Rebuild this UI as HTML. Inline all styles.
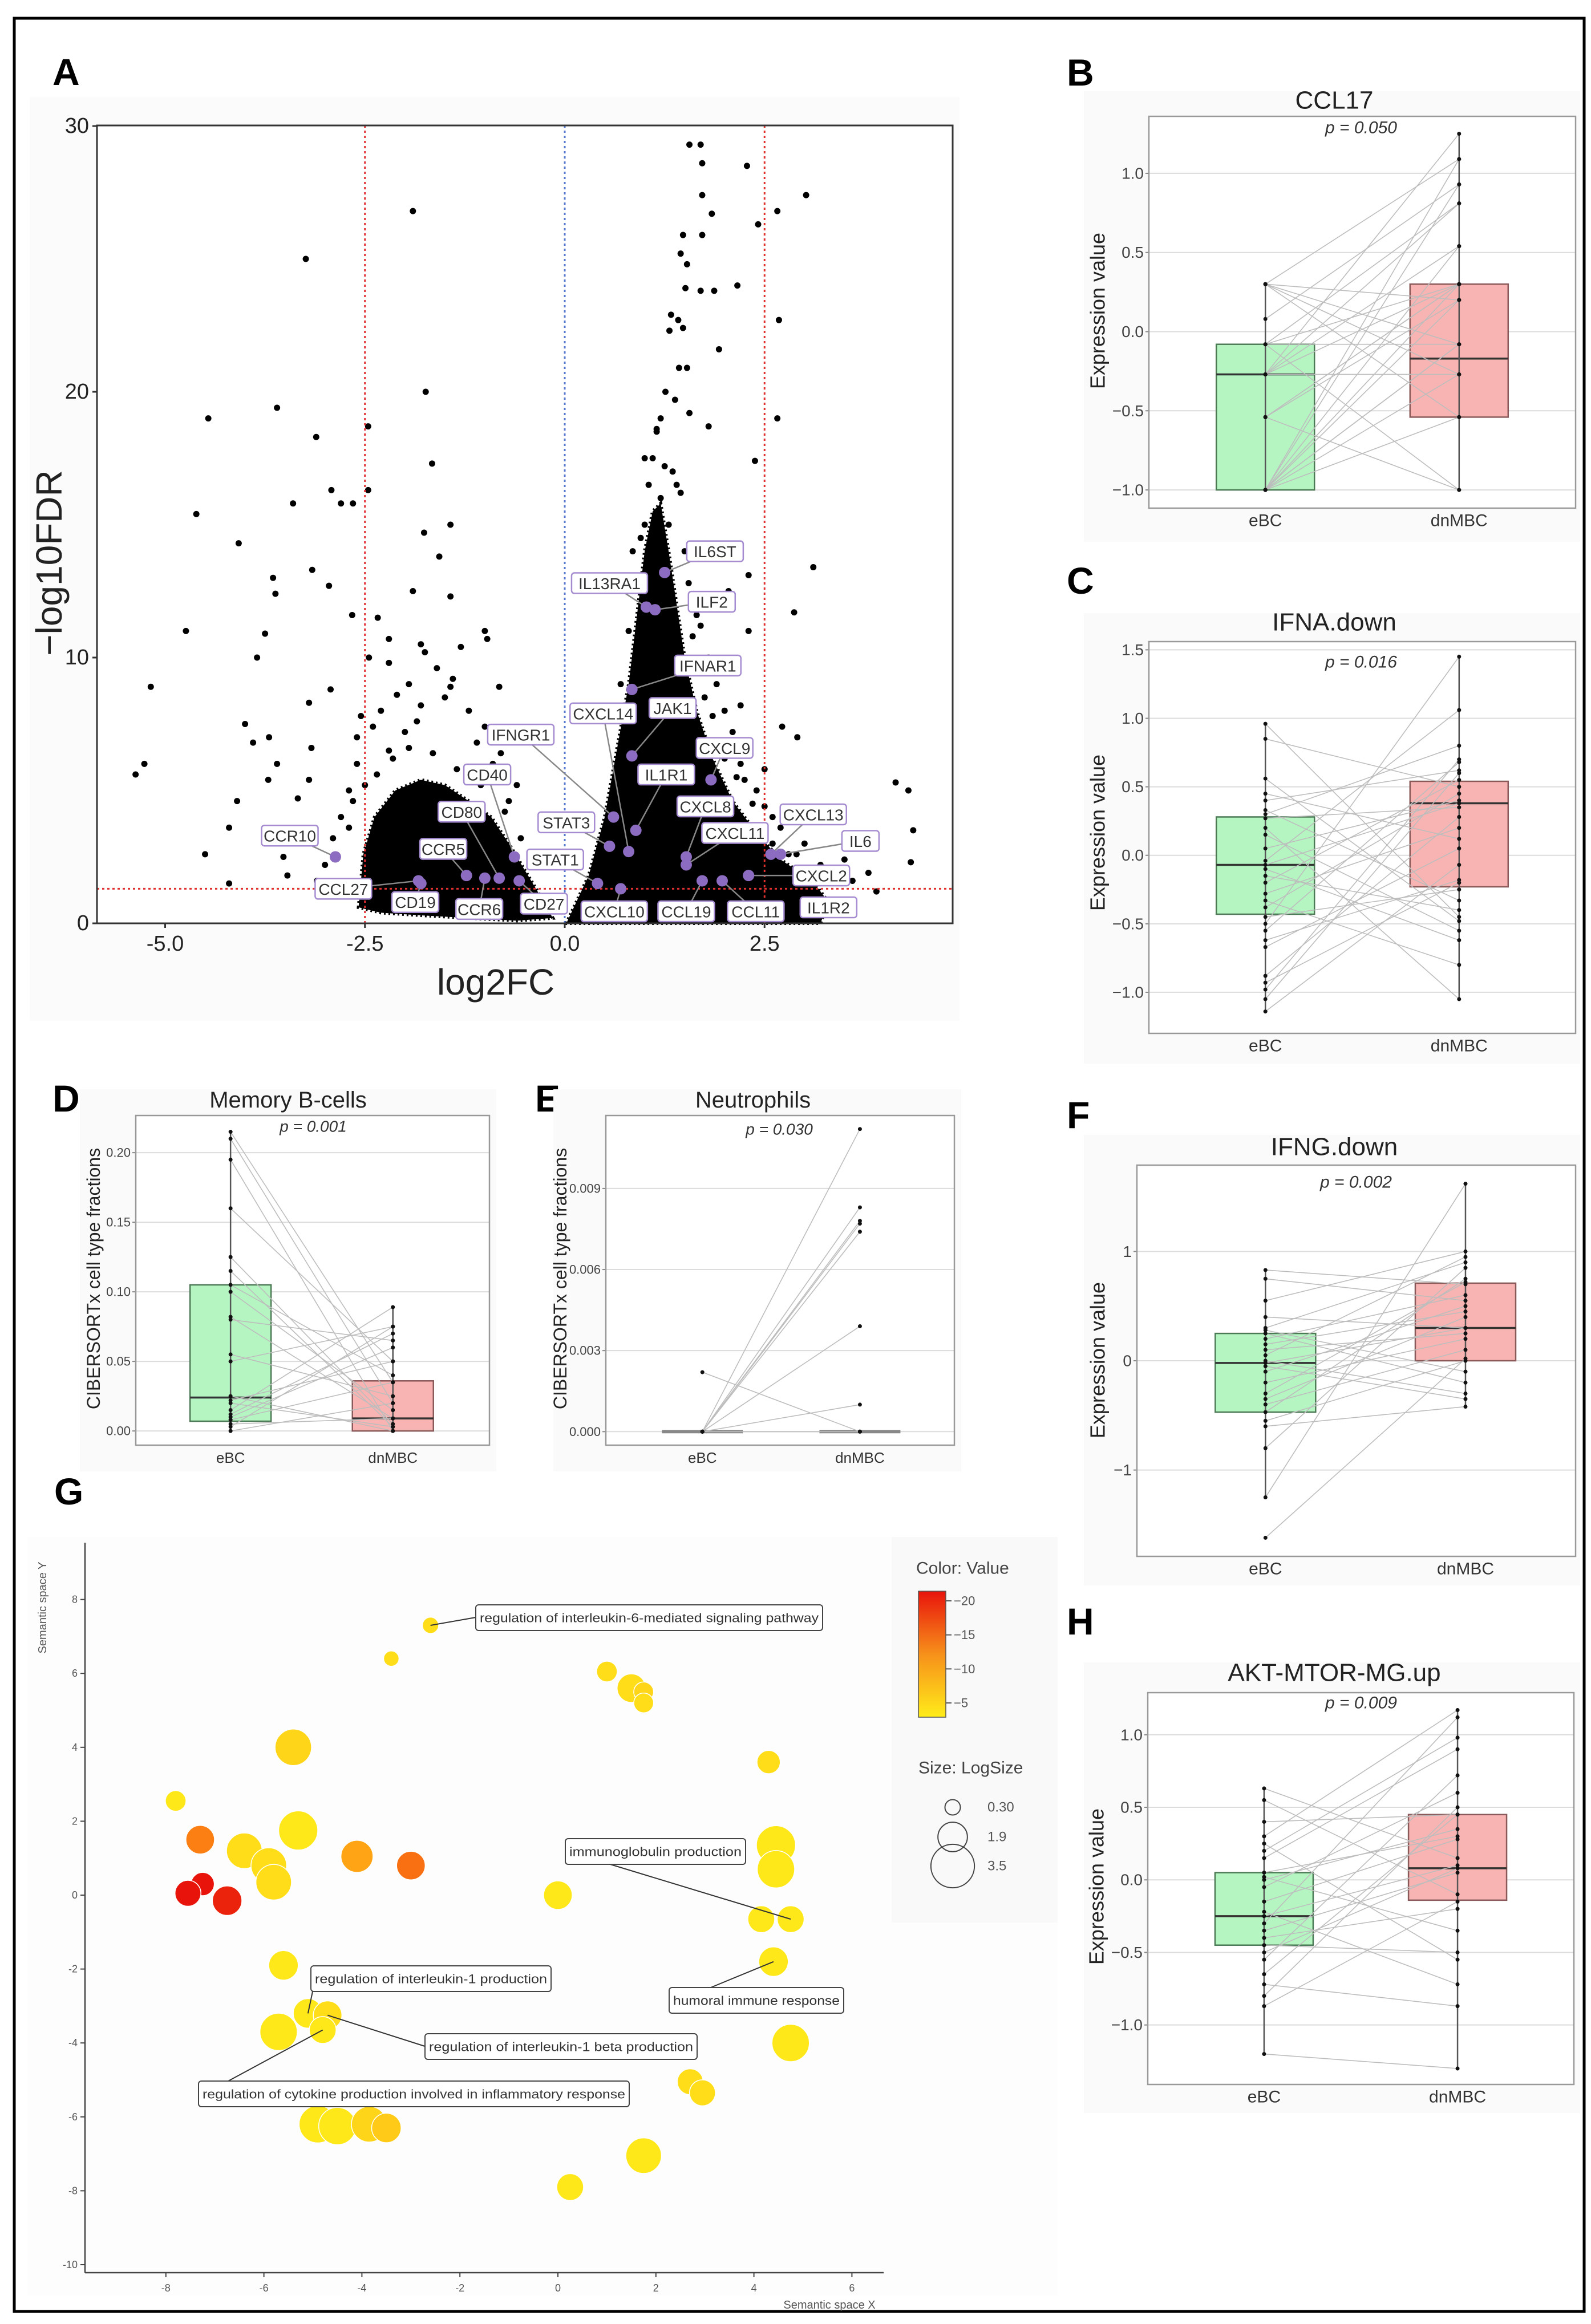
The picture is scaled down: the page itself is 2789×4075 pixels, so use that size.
<!DOCTYPE html>
<html><head><meta charset="utf-8">
<style>
html,body{margin:0;padding:0;background:#fff;}
svg{display:block;font-family:"Liberation Sans",Arial,sans-serif;}
</style></head>
<body>
<svg id="fig" width="2789" height="4075" viewBox="0 0 2789 4075">
<rect x="25" y="32" width="2752" height="4021" fill="#fff" stroke="#000" stroke-width="5"/>
</svg>
<script>
// ================= Panel A: volcano data =================
const volX = [-5.37,-5.26,-5.18,-4.74,-4.61,-4.46,-4.5,-4.2,-4.2,-4.1,-4.08,-4.0,-3.9,-3.85,-3.75,-3.71,-3.7,-3.65,-3.62,-3.6,-3.6,-3.52,-3.47,-3.4,-3.34,-3.24,-3.2,-3.17,-3.16,-3.11,-3.2,-2.95,-2.93,-2.92,-2.8,-2.65,-2.66,-2.46,-2.46,-2.34,-2.2,-1.9,-1.74,-1.66,-1.43,-1.76,-1.57,-1.9,-1.43,-1.0,-0.97,-0.82,-1.8,-1.43,3.02,2.66,2.42,2.68,2.28,2.16,1.93,2.66,2.38,3.11,2.3,2.87,2.72,2.91,4.14,4.3,4.36,4.33,1.56,1.7,1.72,1.72,1.84,1.72,1.48,1.45,1.53,1.51,1.7,1.87,1.33,1.42,1.48,1.31,1.43,1.53,1.26,1.38,1.8,1.56,1.15,
-2.4,-2.3,-2.1,-1.95,-1.8,-1.6,-1.4,-1.2,-1.0,-0.8,-0.6,-2.6,-2.7,-2.8,-2.9,-3.0,-3.1,-2.2,-1.5,-2.45,-2.6,-1.75,-1.3,-2.0,-1.1,-0.9,-0.7,-2.55,-2.2,-1.85,-2.35,-2.15,-1.95,-1.65,-1.35,-1.05,-0.75,-0.55,-0.4,-2.65,-2.7,-2.5,
0.7,0.8,0.9,1.0,1.05,1.1,1.2,1.3,1.5,1.6,1.8,2.0,2.2,2.4,2.6,3.0,3.4,3.6,1.15,1.25,0.95,1.7,1.9,2.1,2.3,2.05,1.4,1.75,1.95,2.15,2.35,2.2,2.45,2.6,2.8,3.2,3.3,1.35,1.45,1.2,1.0,0.85,2.5,3.5,3.8,3.9,3.1,1.6,1.7,1.85,2.0,2.25,2.5,2.7,2.9,1.55,1.65];
const volY = [5.6,6.0,8.9,11.0,15.4,19.0,2.6,1.5,3.6,4.6,14.3,7.5,6.8,10.0,10.9,5.4,7.0,13.0,12.4,19.4,6.0,2.5,1.8,15.8,4.7,25.0,8.3,6.6,13.3,18.3,5.4,12.7,8.8,16.3,15.8,15.8,11.6,18.7,16.3,11.5,10.7,26.8,20.0,17.3,15.0,14.7,13.8,12.5,12.3,11.0,10.7,8.9,10.5,8.9,27.4,26.8,26.3,22.7,28.5,24.0,21.6,19.0,17.4,13.4,13.1,11.7,7.4,7.0,5.3,5.0,3.5,2.3,29.3,29.3,28.6,27.4,26.7,25.9,25.9,25.2,24.8,23.9,23.8,23.8,22.9,22.7,22.4,22.3,20.9,20.9,20.0,19.7,18.7,19.2,18.6,
7.4,8.0,8.6,9.0,8.2,9.6,9.2,8.0,7.4,6.4,5.2,6.0,5.0,4.0,3.2,2.2,1.6,9.8,8.5,10.0,7.0,10.2,10.4,7.2,6.8,6.0,4.6,7.8,6.5,7.6,5.6,6.2,6.6,6.4,5.8,5.2,4.2,3.2,2.6,4.6,3.6,5.2,
9.0,11.0,13.0,15.0,16.5,17.5,16.0,15.0,14.0,12.0,10.0,8.0,6.0,5.0,4.0,3.0,2.0,1.6,18.5,17.2,14.5,11.2,9.0,7.2,11.0,12.5,16.5,8.5,6.5,5.5,4.5,8.2,3.6,3.0,2.6,2.2,1.7,17.0,16.2,19.0,17.5,14.0,5.8,2.4,1.9,1.2,0.9,10.8,9.6,7.8,6.2,5.4,4.4,3.6,2.6,12.8,11.6];
const cloudLX = [-2.58,-2.52,-2.38,-2.12,-1.8,-1.5,-1.2,-0.92,-0.7,-0.5,-0.3,-0.15,-0.6,-1.2,-1.8,-2.3];
const cloudLY = [0.6,2.6,4.0,5.0,5.4,5.2,4.6,4.0,3.0,2.0,1.0,0.2,0.1,0.2,0.3,0.4];
const cloudRX = [0.02,0.3,0.5,0.65,0.8,0.9,1.0,1.1,1.2,1.3,1.4,1.5,1.65,1.85,2.1,2.4,2.7,3.1,3.3,3.2,1.5];
const cloudRY = [0.0,1.8,4.0,6.5,9.0,11.5,14.0,15.5,15.8,14.0,12.0,10.0,8.0,6.2,4.6,3.4,2.4,1.6,0.8,0.0,0.0];
const geneNames = ["IL6ST","IL13RA1","ILF2","IFNAR1","JAK1","CXCL14","IFNGR1","CXCL9","IL1R1","CXCL8","CXCL11","CXCL13","IL6","CXCL2","IL1R2","CCL11","CCL19","CXCL10","CD27","STAT1","STAT3","CD40","CD80","CCR5","CCR6","CD19","CCL27","CCR10"];
const geneX = [1.25,1.02,1.13,0.84,0.84,0.8,0.61,1.83,0.89,1.52,1.52,2.58,2.7,2.3,3.07,1.97,1.72,0.7,-0.57,0.41,0.56,-0.63,-0.82,-1.23,-1.0,-1.8,-1.83,-2.87];
const geneY = [13.2,11.9,11.8,8.8,6.3,2.7,4.0,5.4,3.5,2.5,2.2,2.6,2.6,1.8,0.7,1.6,1.6,1.3,1.6,1.5,2.9,2.5,1.7,1.8,1.7,1.5,1.6,2.5];
const labelX = [1.88,0.56,1.84,1.79,1.35,0.48,-0.55,2.0,1.27,1.76,2.13,3.11,3.7,3.21,3.3,2.39,1.52,0.62,-0.26,-0.12,0.02,-0.97,-1.29,-1.52,-1.07,-1.87,-2.77,-3.44];
const labelY = [14.0,12.8,12.1,9.7,8.1,7.9,7.1,6.6,5.6,4.4,3.4,4.1,3.1,1.8,0.6,0.45,0.45,0.45,0.74,2.4,3.8,5.6,4.2,2.8,0.54,0.8,1.3,3.3];
const volXTicks = [-5.0,-2.5,0.0,2.5];
const volXTickLabels = ["-5.0","-2.5","0.0","2.5"];
const volYTicks = [0,10,20,30];

// ================= Box-plot panels data =================
const bEbc = [0.3,0.3,0.3,0.3,0.08,-0.08,-0.08,-0.27,-0.27,-0.27,-0.27,-0.54,-0.54,-0.54,-1.0,-1.0,-1.0,-1.0,-1.0,-1.0,-1.0,-0.08,0.3,-0.27,-0.54,-1.0,-0.08,-1.0];
const bDn = [-0.27,0.2,-0.54,1.09,0.93,0.81,-0.08,0.54,-0.27,1.25,0.3,0.2,-1.0,0.3,0.54,-0.08,0.3,-0.54,0.93,0.2,-0.27,-1.0,-0.08,0.81,0.3,-0.08,0.3,1.09];
const bStatsE = [-1.0,-1.0,-0.27,-0.08,0.3];
const bStatsD = [-1.0,-0.54,-0.17,0.3,1.25];
const bTicks = [-1.0,-0.5,0.0,0.5,1.0];
const bTickLabels = ["\u22121.0","\u22120.5","0.0","0.5","1.0"];

const cEbc = [0.96,0.85,0.56,0.45,0.4,0.33,0.3,0.27,0.15,0.05,-0.04,-0.07,-0.1,-0.2,-0.28,-0.33,-0.38,-0.5,-0.55,-0.62,-0.67,-0.88,-0.93,-0.98,-1.05,-1.14,0.2,-0.15,-0.45];
const cDn = [-0.45,0.5,-0.48,0.12,0.62,-0.33,0.8,0.35,-0.55,0.4,1.06,0.38,-0.62,0.55,0.2,-0.8,0.45,1.45,0.68,-0.18,0.05,0.28,-0.2,0.7,0.6,-0.07,-1.05,-0.4,-0.25];
const cStatsE = [-1.14,-0.43,-0.07,0.28,0.96];
const cStatsD = [-1.05,-0.23,0.38,0.54,1.45];
const cTicks = [-1.0,-0.5,0.0,0.5,1.0,1.5];
const cTickLabels = ["\u22121.0","\u22120.5","0.0","0.5","1.0","1.5"];

const dEbc = [0.215,0.21,0.195,0.16,0.125,0.115,0.105,0.1,0.082,0.08,0.055,0.05,0.025,0.022,0.015,0.01,0.008,0.005,0.003,0.0,0.02,0.012];
const dDn = [0.035,0.02,0.0,0.05,0.005,0.003,0.04,0.015,0.009,0.065,0.025,0.075,0.0,0.05,0.089,0.06,0.035,0.009,0.075,0.02,0.003,0.07];
const dStatsE = [0.0,0.007,0.024,0.105,0.215];
const dStatsD = [0.0,0.0,0.009,0.036,0.089];
const dTicks = [0.0,0.05,0.10,0.15,0.20];
const dTickLabels = ["0.00","0.05","0.10","0.15","0.20"];

const eEbc = [0,0,0,0,0,0,0,0.0022,0,0,0];
const eDn = [0.0112,0.0083,0.0078,0.0077,0.0074,0.0039,0.001,0,0,0,0];
const eStatsE = [0,0,0,0,0];
const eStatsD = [0,0,0,0,0];
const eTicks = [0,0.003,0.006,0.009];
const eTickLabels = ["0.000","0.003","0.006","0.009"];

const fEbc = [0.83,0.75,0.55,0.4,0.3,0.25,0.2,0.15,0.1,0.05,-0.02,-0.05,-0.1,-0.2,-0.3,-0.4,-0.47,-0.55,-0.6,-0.8,-1.25,-1.62,0.28,-0.35,0.0];
const fDn = [0.7,0.55,1.0,0.3,0.9,-0.2,0.6,0.45,0.25,0.95,0.3,-0.35,0.5,0.2,0.72,0.1,0.75,0.0,-0.42,0.85,1.62,0.02,-0.1,0.4,-0.3];
const fStatsE = [-1.25,-0.47,-0.02,0.25,0.83];
const fStatsD = [-0.42,0.0,0.3,0.71,1.62];
const fTicks = [-1,0,1];
const fTickLabels = ["\u22121","0","1"];

const hEbc = [0.63,0.55,0.4,0.3,0.25,0.15,0.05,0.02,-0.05,-0.15,-0.22,-0.25,-0.3,-0.35,-0.4,-0.45,-0.55,-0.65,-0.72,-0.8,-0.87,-1.2,0.0,-0.5,0.2];
const hDn = [0.15,-0.1,0.45,1.17,-0.55,0.9,0.3,-0.35,0.6,0.28,-0.72,0.1,1.12,0.05,-0.2,-0.5,0.72,0.45,-0.87,0.5,-0.15,-1.3,0.35,0.08,0.98];
const hStatsE = [-1.2,-0.45,-0.25,0.05,0.63];
const hStatsD = [-1.3,-0.14,0.08,0.45,1.17];
const hTicks = [-1.0,-0.5,0.0,0.5,1.0];
const hTickLabels = ["\u22121.0","\u22120.5","0.0","0.5","1.0"];

const groupNames = ["eBC","dnMBC"];

// ================= Panel G data =================
const gX = [-2.6,-3.4,1.0,1.5,1.75,1.75,-5.4,4.3,-7.8,-7.3,-6.4,-5.3,-5.9,-5.8,-4.1,-3.0,-7.25,-7.55,-6.75,0.0,4.45,4.45,4.15,4.75,-5.6,4.4,-5.1,-4.7,-4.8,-5.7,4.75,2.7,2.95,-4.9,-4.5,-3.85,-3.5,1.75,0.25];
const gY = [7.3,6.4,6.05,5.6,5.5,5.2,4.0,3.6,2.55,1.5,1.2,1.75,0.8,0.35,1.05,0.8,0.3,0.05,-0.15,0.0,1.35,0.7,-0.65,-0.65,-1.9,-1.8,-3.2,-3.25,-3.65,-3.7,-4.0,-5.05,-5.35,-6.2,-6.25,-6.2,-6.3,-7.05,-7.9];
const gValue = [-4,-4,-4,-4,-5,-4,-5,-4,-3,-13,-4,-3,-4,-4,-10,-14,-20,-20,-19,-3,-3,-3,-3,-3,-3,-3,-3,-4,-3,-3,-3,-4,-4,-3,-3,-5,-6,-3,-3];
const gLogSize = [0.4,0.3,0.9,1.8,0.8,0.8,2.7,1.2,0.9,1.8,2.6,3.0,2.6,2.6,2.2,1.8,1.2,1.5,1.9,1.8,3.0,2.8,1.6,1.6,1.9,1.9,1.9,1.8,1.6,2.8,2.8,1.5,1.5,2.8,2.8,2.6,1.9,2.6,1.6];
const gXTicks = [-8,-6,-4,-2,0,2,4,6];
const gYTicks = [-10,-8,-6,-4,-2,0,2,4,6,8];
const gLegendValues = [-20,-15,-10,-5];
const gLegendSizes = [0.30,1.9,3.5];
const gLegendSizeLabels = ["0.30","1.9","3.5"];
const gAnnotText = ["regulation of interleukin-6-mediated signaling pathway","immunoglobulin production","regulation of interleukin-1 production","humoral immune response","regulation of interleukin-1 beta production","regulation of cytokine production involved in inflammatory response"];
const gAnnotBubble = [0,23,26,25,27,28];

// ================= helpers =================
const NS = "http://www.w3.org/2000/svg";
const fig = document.getElementById("fig");
function mk(tag, attrs, parent, text){
  const el = document.createElementNS(NS, tag);
  for (const k in attrs) el.setAttribute(k, attrs[k]);
  if (text !== undefined) el.textContent = text;
  (parent || fig).appendChild(el);
  return el;
}
function grp(parent){ return mk("g", {}, parent); }

const letters = [["A",92,126,"Liberation Sans"],["B",1870,127,"Liberation Sans"],["C",1870,1018,"Liberation Sans"],["D",92,1926,"Liberation Sans Narrow"],["E",938,1926,"Liberation Sans Narrow"],["F",1870,1955,"Liberation Sans"],["G",95,2615,"Liberation Sans Narrow"],["H",1870,2843,"Liberation Sans"]];
letters.forEach(function(L){
  const t = mk("text",{x:L[1],y:L[2],"font-size":66,"font-weight":"bold","dominant-baseline":"central","font-family":'"'+L[3]+'","Liberation Sans",sans-serif'},fig,L[0]);
  
  
});

// ================= Panel A =================
(function(){
  const g = grp();
  
  
  const X0=170, X1=1670, Y0=220, Y1=1619;
  const xs = v => 990 + v*140.1;
  const ys = v => 1619 - v*46.6;
  const bg = mk("rect",{x:52,y:170,width:1630,height:1620,fill:"#fbfbfb"},g);
  
  
  mk("rect",{x:X0,y:Y0,width:X1-X0,height:Y1-Y0,fill:"#fff"},g);
  const polyL = cloudLX.map((v,i)=>xs(v)+","+ys(cloudLY[i])).join(" ");
  const pl = mk("polygon",{points:polyL,fill:"#000",stroke:"#000","stroke-width":6,"stroke-dasharray":"3,5"},g);
  
  
  const polyR = cloudRX.map((v,i)=>xs(v)+","+ys(cloudRY[i])).join(" ");
  const pr = mk("polygon",{points:polyR,fill:"#000",stroke:"#000","stroke-width":6,"stroke-dasharray":"3,5"},g);
  
  
  volX.forEach(function(v,i){
    const c = mk("circle",{cx:xs(v),cy:ys(volY[i]),r:5.5,fill:"#000"},g);
    
    
  });
  [-2.5,2.5].forEach(function(v){
    const l = mk("line",{x1:xs(v),x2:xs(v),y1:Y0,y2:Y1,stroke:"#e03030","stroke-width":3,"stroke-dasharray":"4,5"},g);
    
    
  });
  const l0 = mk("line",{x1:xs(0),x2:xs(0),y1:Y0,y2:Y1,stroke:"#5577cc","stroke-width":3,"stroke-dasharray":"4,5"},g);
  
  
  const lf = mk("line",{x1:X0,x2:X1,y1:ys(1.3),y2:ys(1.3),stroke:"#e03030","stroke-width":3,"stroke-dasharray":"4,5"},g);
  
  
  geneNames.forEach(function(n,i){
    const ln = mk("line",{x1:xs(geneX[i]),y1:ys(geneY[i]),x2:xs(labelX[i]),y2:ys(labelY[i]),stroke:"#888","stroke-width":2.5},g);
    
    
  });
  geneNames.forEach(function(n,i){
    const c = mk("circle",{cx:xs(geneX[i]),cy:ys(geneY[i]),r:10,fill:"#8c6cc0"},g);
    
    
  });
  geneNames.forEach(function(n,i){
    const lx=xs(labelX[i]), ly=ys(labelY[i]);
    const w = n.length*17+14;
    const r = mk("rect",{x:lx-w/2,y:ly-18,width:w,height:36,rx:5,fill:"#fff",stroke:"#a58bd0","stroke-width":2.5},g);
    
    
    const t = mk("text",{x:lx,y:ly+1,"font-size":28,"text-anchor":"middle","dominant-baseline":"central",fill:"#333"},g,n);
    
    
  });
  const fr = mk("rect",{x:X0,y:Y0,width:X1-X0,height:Y1-Y0,fill:"none",stroke:"#333","stroke-width":3},g);
  
  
  volXTicks.forEach(function(v,i){
    mk("line",{x1:xs(v),x2:xs(v),y1:Y1,y2:Y1+8,stroke:"#333","stroke-width":3},g);
    const t = mk("text",{x:xs(v),y:Y1+36,"font-size":38,"text-anchor":"middle","dominant-baseline":"central",fill:"#222"},g,volXTickLabels[i]);
    
    
  });
  volYTicks.forEach(function(v){
    mk("line",{x1:X0-8,x2:X0,y1:ys(v),y2:ys(v),stroke:"#333","stroke-width":3},g);
    const t = mk("text",{x:X0-14,y:ys(v),"font-size":38,"text-anchor":"end","dominant-baseline":"central",fill:"#222"},g,String(v));
    
    
  });
  const xt = mk("text",{x:869,y:1722,"font-size":64,"text-anchor":"middle","dominant-baseline":"central",fill:"#222"},g,"log2FC");
  
  
  const yt = mk("text",{x:0,y:0,"font-size":64,"text-anchor":"middle","dominant-baseline":"central",fill:"#222",transform:"translate(86,987) rotate(-90)"},g,"\u2212log10FDR");
  
  
})();

// ================= Box plots =================
function drawBoxPanel(cfg, ebc, dn, statsE, statsD, ticks, tickLabels){
  const g = grp();
  
  
  const ys = v => cfg.y1 - (v - cfg.dmin)/(cfg.dmax - cfg.dmin)*(cfg.y1 - cfg.y0);
  const cx = [cfg.x0 + cfg.c[0]*(cfg.x1-cfg.x0), cfg.x0 + cfg.c[1]*(cfg.x1-cfg.x0)];
  const bg = mk("rect",{x:cfg.bx,y:cfg.by,width:cfg.bw,height:cfg.bh,fill:"#fafafa"},g);
  
  
  mk("rect",{x:cfg.x0,y:cfg.y0,width:cfg.x1-cfg.x0,height:cfg.y1-cfg.y0,fill:"#fff"},g);
  ticks.forEach(function(v,i){
    const gl = mk("line",{x1:cfg.x0,x2:cfg.x1,y1:ys(v),y2:ys(v),stroke:"#dcdcdc","stroke-width":cfg.gw||2},g);
    
    
    mk("line",{x1:cfg.x0-6,x2:cfg.x0,y1:ys(v),y2:ys(v),stroke:"#888","stroke-width":2},g);
    const t = mk("text",{x:cfg.x0-9,y:ys(v),"font-size":cfg.tf,"text-anchor":"end","dominant-baseline":"central",fill:"#444","font-family":cfg.ff},g,tickLabels[i]);
    
    
  });
  const fills = [cfg.fillE, cfg.fillD], strokes=["#4c7a55","#8a5a5a"];
  [statsE, statsD].forEach(function(s,k){
    const hw = cfg.hw;
    const r = mk("rect",{x:cx[k]-hw,y:ys(s[3]),width:2*hw,height:Math.max(0,ys(s[1])-ys(s[3])),fill:fills[k],stroke:cfg.boxStroke||strokes[k],"stroke-width":cfg.bsw||2.5},g);
    
    
    const m = mk("line",{x1:cx[k]-hw,x2:cx[k]+hw,y1:ys(s[2]),y2:ys(s[2]),stroke:cfg.medStroke||"#333","stroke-width":cfg.msw||3.5},g);
    
    
  });
  ebc.forEach(function(v,i){
    const l = mk("line",{x1:cx[0],y1:ys(v),x2:cx[1],y2:ys(dn[i]),stroke:"#bdbdbd","stroke-width":1.6},g);
    
    
  });
  [statsE, statsD].forEach(function(s,k){
    const w = mk("line",{x1:cx[k],x2:cx[k],y1:ys(s[0]),y2:ys(s[4]),stroke:"#555","stroke-width":2.5},g);
    
    
  });
  [ebc, dn].forEach(function(arr,k){
    arr.forEach(function(v){
      const p = mk("circle",{cx:cx[k],cy:ys(v),r:3.5,fill:"#111"},g);
      
      
    });
  });
  const fr = mk("rect",{x:cfg.x0,y:cfg.y0,width:cfg.x1-cfg.x0,height:cfg.y1-cfg.y0,fill:"none",stroke:"#999","stroke-width":2.5},g);
  
  
  groupNames.forEach(function(n,k){
    const t = mk("text",{x:cx[k],y:cfg.y1+cfg.xlo,"font-size":cfg.cf,"text-anchor":"middle","dominant-baseline":"central",fill:"#333","font-family":cfg.ff},g,n);
    
    
  });
  const tt = mk("text",{x:cfg.tx,y:cfg.ty,"font-size":cfg.titf,"text-anchor":"middle","dominant-baseline":"central",fill:"#222","font-family":cfg.ff},g,cfg.title);
  
  
  const pt = mk("text",{x:cfg.px,y:cfg.py,"font-size":cfg.pf,"font-style":"italic","text-anchor":"middle","dominant-baseline":"central",fill:"#333","font-family":cfg.ff},g,cfg.p);
  
  
  const yt = mk("text",{x:0,y:0,"font-size":cfg.yf,"text-anchor":"middle","dominant-baseline":"central",fill:"#222","font-family":cfg.yff||cfg.ff,transform:"translate("+cfg.ytx+","+cfg.yty+") rotate(-90)"},g,cfg.ytitle);
  
  
}
const FF = '"Liberation Sans",Arial,sans-serif';
const FN = '"Liberation Sans Narrow","Liberation Sans",sans-serif';
drawBoxPanel({name:"ccl17-boxplot",x0:2014,x1:2762,y0:204,y1:891,dmin:-1.115,dmax:1.36,c:[0.273,0.727],hw:86,bx:1900,by:160,bw:870,bh:790,fillE:"#b5f5c2",fillD:"#f8b4b2",tf:28,cf:30,xlo:22,ff:FF,title:"CCL17",tx:2339,ty:176,titf:44,p:"p = 0.050",px:2386,py:224,pf:30,yf:36,ytitle:"Expression value",ytx:1924,yty:545}, bEbc,bDn,bStatsE,bStatsD,bTicks,bTickLabels);
drawBoxPanel({name:"ifna-down-boxplot",x0:2014,x1:2762,y0:1125,y1:1812,dmin:-1.3,dmax:1.56,c:[0.273,0.727],hw:86,bx:1900,by:1075,bw:870,bh:790,fillE:"#b5f5c2",fillD:"#f8b4b2",tf:28,cf:30,xlo:22,ff:FF,title:"IFNA.down",tx:2339,ty:1091,titf:44,p:"p = 0.016",px:2386,py:1161,pf:30,yf:36,ytitle:"Expression value",ytx:1924,yty:1460}, cEbc,cDn,cStatsE,cStatsD,cTicks,cTickLabels);
drawBoxPanel({name:"memory-b-cells-boxplot",x0:238,x1:858,y0:1956,y1:2534,dmin:-0.0102,dmax:0.2267,c:[0.268,0.727],hw:71,bx:140,by:1910,bw:730,bh:670,fillE:"#b5f5c2",fillD:"#f8b4b2",tf:22,cf:26,xlo:22,ff:FN,title:"Memory B-cells",tx:505,ty:1929,titf:40,p:"p = 0.001",px:549,py:1975,pf:28,yf:32,yff:FF,ytitle:"CIBERSORTx cell type fractions",ytx:164,yty:2242}, dEbc,dDn,dStatsE,dStatsD,dTicks,dTickLabels);
drawBoxPanel({name:"neutrophils-boxplot",x0:1062,x1:1673,y0:1956,y1:2534,dmin:-0.0005,dmax:0.0117,c:[0.277,0.729],hw:71,bx:970,by:1910,bw:715,bh:670,fillE:"#888",fillD:"#888",boxStroke:"#888",bsw:6,medStroke:"#888",msw:6,tf:22,cf:26,xlo:22,ff:FN,title:"Neutrophils",tx:1320,ty:1929,titf:40,p:"p = 0.030",px:1366,py:1980,pf:28,yf:32,yff:FF,ytitle:"CIBERSORTx cell type fractions",ytx:982,yty:2242}, eEbc,eDn,eStatsE,eStatsD,eTicks,eTickLabels);
drawBoxPanel({name:"ifng-down-boxplot",x0:1993,x1:2762,y0:2043,y1:2729,dmin:-1.79,dmax:1.79,c:[0.293,0.749],hw:88,bx:1900,by:1990,bw:870,bh:790,fillE:"#b5f5c2",fillD:"#f8b4b2",tf:28,cf:30,xlo:22,ff:FF,title:"IFNG.down",tx:2339,ty:2011,titf:44,p:"p = 0.002",px:2377,py:2073,pf:30,yf:36,ytitle:"Expression value",ytx:1924,yty:2385}, fEbc,fDn,fStatsE,fStatsD,fTicks,fTickLabels);
drawBoxPanel({name:"akt-mtor-boxplot",x0:2012,x1:2759,y0:2968,y1:3655,dmin:-1.41,dmax:1.29,c:[0.273,0.727],hw:86,bx:1900,by:2915,bw:870,bh:790,fillE:"#b5f5c2",fillD:"#f8b4b2",tf:28,cf:30,xlo:22,ff:FF,title:"AKT-MTOR-MG.up",tx:2339,ty:2933,titf:44,p:"p = 0.009",px:2386,py:2986,pf:30,yf:36,ytitle:"Expression value",ytx:1922,yty:3308}, hEbc,hDn,hStatsE,hStatsD,hTicks,hTickLabels);

// ================= Panel G =================
(function(){
  const g = grp();
  
  
  const xs = v => 978 + v*85.9;
  const ys = v => 3323 - v*64.8;
  const rs = s => 11.2 + 7.7*s;
  function col(v){
    const t = Math.max(0, Math.min(1, (v + 3)/(-20 + 3)));
    let r,gg,b;
    if (t < 0.5){ const u=t/0.5; r=255; gg=Math.round(232 + (150-232)*u); b=Math.round(26 + (20-26)*u);}
    else { const u=(t-0.5)/0.5; r=Math.round(255 + (232-255)*u); gg=Math.round(150 + (20-150)*u); b=Math.round(20 + (12-20)*u);}
    return "rgb("+r+","+gg+","+b+")";
  }
  const bg = mk("rect",{x:48,y:2695,width:1806,height:1330,fill:"#fdfdfd"},g);
  
  
  const lg = mk("rect",{x:1563,y:2695,width:291,height:676,fill:"#f9f9f9"},g);
  
  
  mk("line",{x1:149,x2:149,y1:2705,y2:3985,stroke:"#444","stroke-width":2.5},g);
  mk("line",{x1:149,x2:1549,y1:3985,y2:3985,stroke:"#444","stroke-width":2.5},g);
  gXTicks.forEach(function(v){
    mk("line",{x1:xs(v),x2:xs(v),y1:3985,y2:3993,stroke:"#444","stroke-width":2},g);
    const t = mk("text",{x:xs(v),y:4012,"font-size":18,"text-anchor":"middle","dominant-baseline":"central",fill:"#555"},g,String(v));
    
    
  });
  gYTicks.forEach(function(v){
    mk("line",{x1:141,x2:149,y1:ys(v),y2:ys(v),stroke:"#444","stroke-width":2},g);
    const t = mk("text",{x:136,y:ys(v),"font-size":18,"text-anchor":"end","dominant-baseline":"central",fill:"#555"},g,String(v));
    
    
  });
  const xt = mk("text",{x:1454,y:4042,"font-size":20,"text-anchor":"middle","dominant-baseline":"central",fill:"#555"},g,"Semantic space X");
  
  
  const yt = mk("text",{x:0,y:0,"font-size":20,"text-anchor":"middle","dominant-baseline":"central",fill:"#555",transform:"translate(75,2819) rotate(-90)"},g,"Semantic space Y");
  
  
  gX.forEach(function(v,i){
    const c = mk("circle",{cx:xs(v),cy:ys(gY[i]),r:rs(gLogSize[i]),fill:col(gValue[i]),stroke:"#fff","stroke-width":1.5},g);
    
    
  });
  const boxes = [[834,2814,608],[991,3224,316],[545,3447,421],[1173,3485,306],[745,3566,477],[348,3649,755]];
  const anchors = [[834,2836],[1060,3266],[548,3492],[1246,3485],[751,3590],[400,3649]];
  gAnnotText.forEach(function(txt,i){
    const b = gAnnotBubble[i];
    const ln = mk("line",{x1:anchors[i][0],y1:anchors[i][1],x2:xs(gX[b]),y2:ys(gY[b]),stroke:"#333","stroke-width":2},g);
    
    
    const r = mk("rect",{x:boxes[i][0],y:boxes[i][1],width:boxes[i][2],height:45,rx:5,fill:"#fff",stroke:"#444","stroke-width":2},g);
    
    
    const t = mk("text",{x:boxes[i][0]+boxes[i][2]/2,y:boxes[i][1]+23,"font-size":22,"text-anchor":"middle","dominant-baseline":"central",fill:"#333",textLength:boxes[i][2]-14,lengthAdjust:"spacingAndGlyphs"},g,txt);
    
    
  });
  const lt = mk("text",{x:1606,y:2750,"font-size":30,"dominant-baseline":"central",fill:"#444"},g,"Color: Value");
  
  
  const defs = mk("defs",{},g);
  const lgd = mk("linearGradient",{id:"cbar",x1:0,y1:0,x2:0,y2:1},defs);
  mk("stop",{offset:"0","stop-color":"#e8140c"},lgd);
  mk("stop",{offset:"0.5","stop-color":"#f7901a"},lgd);
  mk("stop",{offset:"1","stop-color":"#ffec1a"},lgd);
  const cb = mk("rect",{x:1610,y:2790,width:48,height:221,fill:"url(#cbar)",stroke:"#555","stroke-width":1.5},g);
  
  
  const cy = v => 2986 - (v + 5)/(-15)*179;
  gLegendValues.forEach(function(v){
    mk("line",{x1:1658,x2:1668,y1:cy(v),y2:cy(v),stroke:"#555","stroke-width":2},g);
    const t = mk("text",{x:1672,y:cy(v),"font-size":22,"dominant-baseline":"central",fill:"#555"},g,"\u2212"+Math.abs(v));
    
    
  });
  const st = mk("text",{x:1610,y:3100,"font-size":30,"dominant-baseline":"central",fill:"#444"},g,"Size: LogSize");
  
  
  const sy = [3169,3221,3272];
  gLegendSizes.forEach(function(s,i){
    const c = mk("circle",{cx:1670,cy:sy[i],r:rs(s),fill:"none",stroke:"#444","stroke-width":2},g);
    
    
    const t = mk("text",{x:1731,y:sy[i],"font-size":24,"dominant-baseline":"central",fill:"#555"},g,gLegendSizeLabels[i]);
    
    
  });
})();
</script>
</body></html>
